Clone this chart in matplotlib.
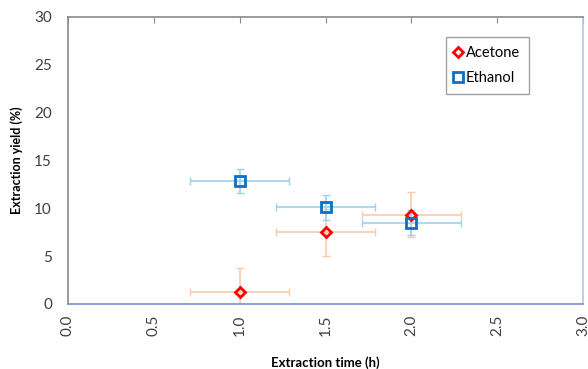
import numpy as np
import matplotlib
matplotlib.use('Agg')
import matplotlib.pyplot as plt

plt.rcParams['font.family'] = ['Lato', 'DejaVu Sans']

# extraction data
time_h = [1.0, 1.5, 2.0]
acetone = [1.25, 7.5, 9.3]
acetone_yerr = [2.5, 2.45, 2.35]
ethanol = [12.85, 10.1, 8.5]
ethanol_yerr = [1.3, 1.3, 1.3]
time_xerr = [0.29, 0.29, 0.29]

fig = plt.figure(figsize=(5.88, 3.69), dpi=100)
ax = fig.add_axes([0.1156, 0.1762, 0.876, 0.778])

ax.errorbar(time_h, acetone, yerr=acetone_yerr, xerr=time_xerr, fmt='none',
            ecolor='#f8cbad', elinewidth=1.2, capsize=3, capthick=1.0, zorder=2)
ax.errorbar(time_h, ethanol, yerr=ethanol_yerr, xerr=time_xerr, fmt='none',
            ecolor='#9dd3e6', elinewidth=1.2, capsize=3, capthick=1.0, zorder=2)
ax.plot(time_h, acetone, linestyle='none', marker='D', markersize=5.5,
        markerfacecolor='none', markeredgecolor='#ff0000', markeredgewidth=2,
        label='Acetone', zorder=3)
ax.plot(time_h, ethanol, linestyle='none', marker='s', markersize=7,
        markerfacecolor='none', markeredgecolor='#0f6fc6', markeredgewidth=2,
        label='Ethanol', zorder=4)

ax.set_xlim(0, 3)
ax.set_ylim(0, 30)
ax.set_xticks(np.arange(0, 3.01, 0.5))
ax.set_xticklabels(['%.1f' % v for v in np.arange(0, 3.01, 0.5)], rotation=90)
ax.set_yticks(range(0, 31, 5))

ax.spines['left'].set_color('#8a8a8a')
ax.spines['top'].set_color('#8a8a8a')
ax.spines['right'].set_color('#b4c7e7')
ax.spines['bottom'].set_color('#6f94d0')
for s in ax.spines.values():
    s.set_linewidth(1.2)

ax.tick_params(axis='x', which='both', bottom=False, top=True, direction='in',
               length=4, color='#8a8a8a', labelsize=11, labelcolor='#404040',
               pad=8)
ax.tick_params(axis='y', left=False, labelsize=11, labelcolor='#404040', pad=8)

ax.set_xlabel('Extraction time (h)', fontweight='bold', fontsize=9.5, labelpad=14)
ax.set_ylabel('Extraction yield (%)', fontweight='bold', fontsize=9, labelpad=8)

leg = ax.legend(loc='upper right', bbox_to_anchor=(0.895, 0.93), frameon=True,
                fancybox=False, fontsize=10.5, handlelength=0.5,
                handletextpad=0.3, borderpad=0.6, labelspacing=0.8,
                borderaxespad=0)
leg.get_frame().set_edgecolor('#8a8a8a')
leg.get_frame().set_linewidth(1.0)

fig.savefig('out.png', dpi=100)
